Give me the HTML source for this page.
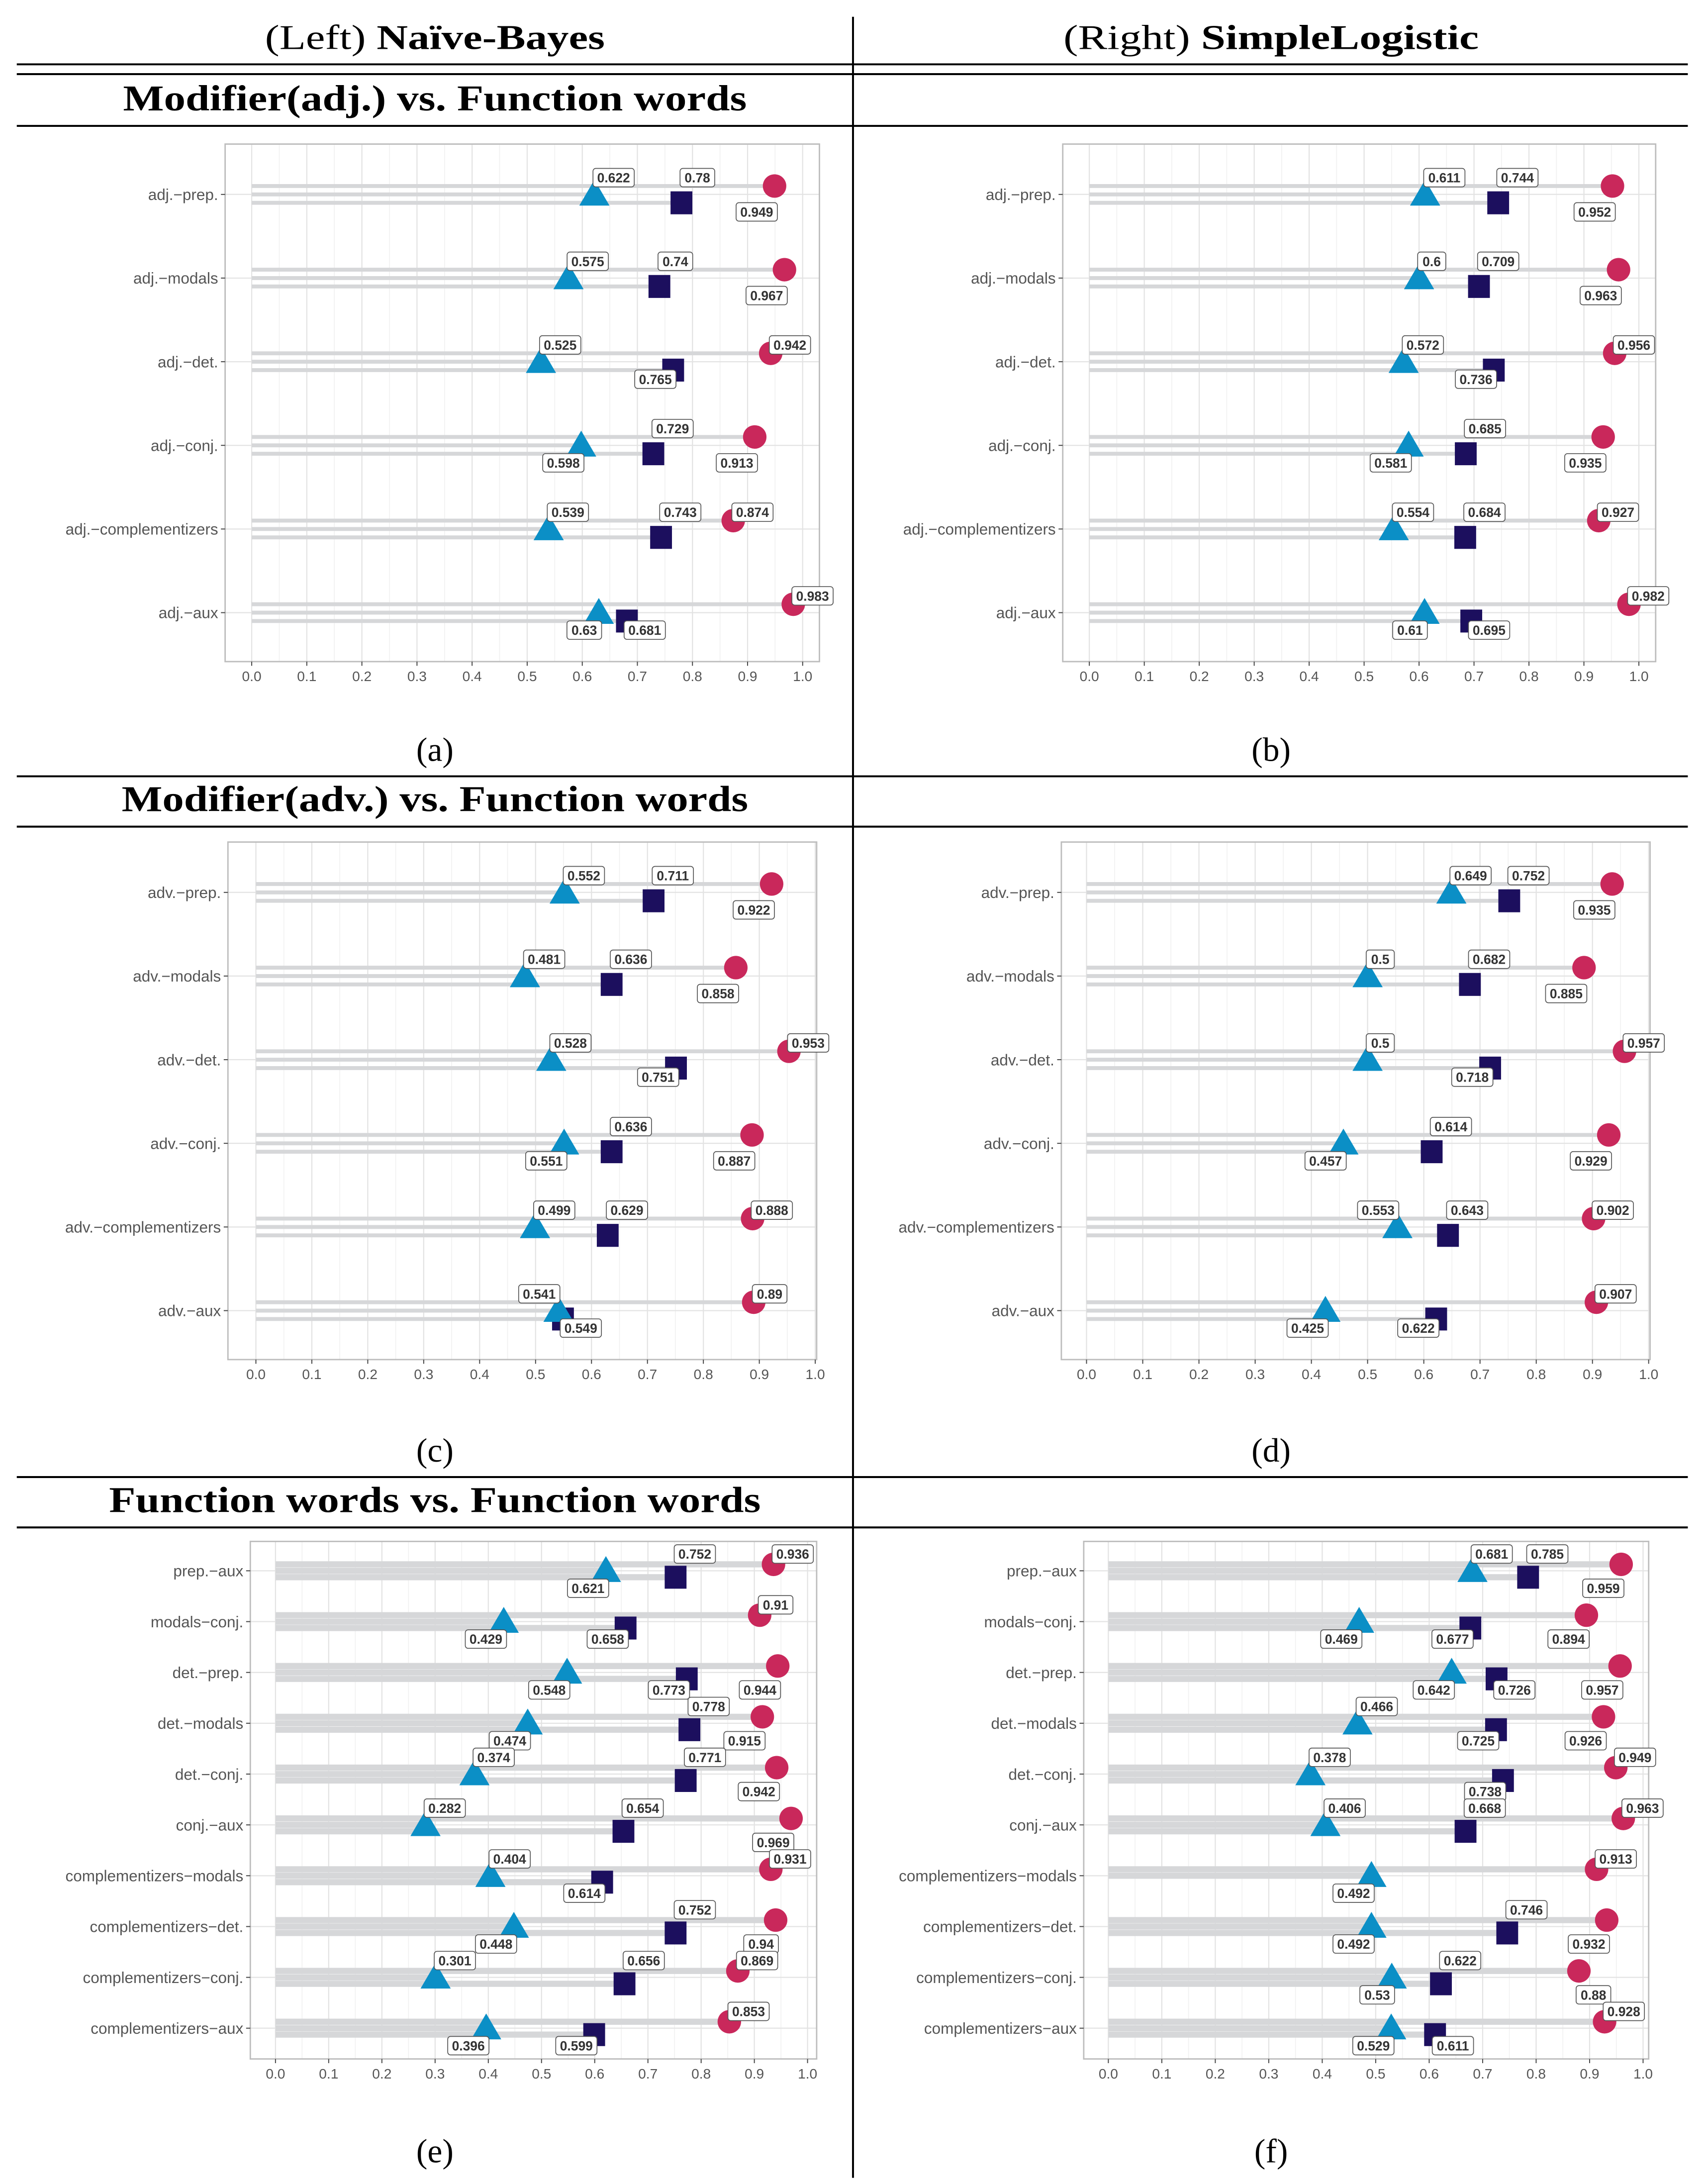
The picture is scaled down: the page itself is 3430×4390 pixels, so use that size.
<!DOCTYPE html>
<html><head><meta charset="utf-8"><style>
html,body{margin:0;padding:0;background:#fff}
svg{display:block}
</style></head><body>
<svg id="root" xmlns="http://www.w3.org/2000/svg" width="3430" height="4390" viewBox="0 0 1220 1561.4" preserveAspectRatio="none">
<rect x="0" y="0" width="1220" height="1562" fill="#fff"/>
<g stroke="#000" stroke-width="1.4">
<line x1="610" y1="12" x2="610" y2="1557"/>
<line x1="12" y1="46" x2="1207" y2="46"/>
<line x1="12" y1="53" x2="1207" y2="53"/>
<line x1="12" y1="90" x2="1207" y2="90"/>
<line x1="12" y1="555" x2="1207" y2="555"/>
<line x1="12" y1="591" x2="1207" y2="591"/>
<line x1="12" y1="1056" x2="1207" y2="1056"/>
<line x1="12" y1="1092" x2="1207" y2="1092"/>
</g>
<g font-family="'Liberation Serif', serif" fill="#000">
<text x="311" y="35" font-size="25" text-anchor="middle" textLength="243" lengthAdjust="spacingAndGlyphs">(Left) <tspan font-weight="bold">Naïve-Bayes</tspan></text>
<text x="909" y="35" font-size="25" text-anchor="middle" textLength="297" lengthAdjust="spacingAndGlyphs">(Right) <tspan font-weight="bold">SimpleLogistic</tspan></text>
<text x="311" y="79" font-size="26" font-weight="bold" text-anchor="middle" textLength="446" lengthAdjust="spacingAndGlyphs">Modifier(adj.) vs. Function words</text>
<text x="311" y="580" font-size="26" font-weight="bold" text-anchor="middle" textLength="448" lengthAdjust="spacingAndGlyphs">Modifier(adv.) vs. Function words</text>
<text x="311" y="1081" font-size="26" font-weight="bold" text-anchor="middle" textLength="466" lengthAdjust="spacingAndGlyphs">Function words vs. Function words</text>
<text x="311" y="544" font-size="24" text-anchor="middle">(a)</text>
<text x="909" y="544" font-size="24" text-anchor="middle">(b)</text>
<text x="311" y="1045" font-size="24" text-anchor="middle">(c)</text>
<text x="909" y="1045" font-size="24" text-anchor="middle">(d)</text>
<text x="311" y="1546" font-size="24" text-anchor="middle">(e)</text>
<text x="909" y="1546" font-size="24" text-anchor="middle">(f)</text>
</g>
<g id="panels"></g>
</svg>
<script>
const NS = "http://www.w3.org/2000/svg";
const xTicks = ["0.0","0.1","0.2","0.3","0.4","0.5","0.6","0.7","0.8","0.9","1.0"];

const catsA = ["adj.\u2212prep.","adj.\u2212modals","adj.\u2212det.","adj.\u2212conj.","adj.\u2212complementizers","adj.\u2212aux"];
const triA = [0.622,0.575,0.525,0.598,0.539,0.63];
const sqA = [0.78,0.74,0.765,0.729,0.743,0.681];
const cirA = [0.949,0.967,0.942,0.913,0.874,0.983];
const triPosA = ["a","a","a","b","a","b"];
const sqPosA = ["a","a","b","a","a","B"];
const cirPosA = ["b","b","a","b","a","a"];

const triB = [0.611,0.6,0.572,0.581,0.554,0.61];
const sqB = [0.744,0.709,0.736,0.685,0.684,0.695];
const cirB = [0.952,0.963,0.956,0.935,0.927,0.982];

const catsC = ["adv.\u2212prep.","adv.\u2212modals","adv.\u2212det.","adv.\u2212conj.","adv.\u2212complementizers","adv.\u2212aux"];
const triC = [0.552,0.481,0.528,0.551,0.499,0.541];
const sqC = [0.711,0.636,0.751,0.636,0.629,0.549];
const cirC = [0.922,0.858,0.953,0.887,0.888,0.89];
const triPosC = ["a","a","a","b","a","A"];
const sqPosC = ["a","a","b","a","a","B"];
const cirPosC = ["b","b","a","b","a","a"];

const triD = [0.649,0.5,0.5,0.457,0.553,0.425];
const sqD = [0.752,0.682,0.718,0.614,0.643,0.622];
const cirD = [0.935,0.885,0.957,0.929,0.902,0.907];
const triPosD = ["a","a","a","b","A","b"];
const sqPosD = ["a","a","b","a","a","b"];
const cirPosD = ["b","b","a","b","a","a"];

const catsE = ["prep.\u2212aux","modals\u2212conj.","det.\u2212prep.","det.\u2212modals","det.\u2212conj.","conj.\u2212aux","complementizers\u2212modals","complementizers\u2212det.","complementizers\u2212conj.","complementizers\u2212aux"];
const triE = [0.621,0.429,0.548,0.474,0.374,0.282,0.404,0.448,0.301,0.396];
const sqE = [0.752,0.658,0.773,0.778,0.771,0.654,0.614,0.752,0.656,0.599];
const cirE = [0.936,0.91,0.944,0.915,0.942,0.969,0.931,0.94,0.869,0.853];
const triPosE = ["b","b","b","b","a","a","a","b","a","b"];
const sqPosE = ["a","b","b","a","a","a","b","a","a","b"];
const cirPosE = ["a","a","b","b","b","b","a","b","a","a"];

const triF = [0.681,0.469,0.642,0.466,0.378,0.406,0.492,0.492,0.53,0.529];
const sqF = [0.785,0.677,0.726,0.725,0.738,0.668,null,0.746,0.622,0.611];
const cirF = [0.959,0.894,0.957,0.926,0.949,0.963,0.913,0.932,0.88,0.928];
const triPosF = ["a","b","b","a","a","a","b","b","b","b"];
const sqPosF = ["a","b","B","b","b","a","a","a","a","B"];
const cirPosF = ["b","b","b","b","a","a","a","b","B","a"];

function el(tag, attrs, parent){
  const e = document.createElementNS(NS, tag);
  for (const k in attrs) e.setAttribute(k, attrs[k]);
  parent.appendChild(e);
  return e;
}

function drawPanel(id, g, cats, tri, sq, cir, tp, sp, cp){
  const root = document.getElementById("panels");
  const p = el("g", {}, root);
  
  
  const xs = v => g.x0 + (g.x1 - g.x0) * v;
  const n = cats.length;
  const ys = i => g.rowTop + (g.rowBot - g.rowTop) * i / (n - 1);
  for (let k = 0; k <= 20; k++){
    const v = k * 0.05;
    if (xs(v) > g.right) continue;
    const ln = el("line", {x1: xs(v), x2: xs(v), y1: g.top, y2: g.bot, stroke: k%2 ? "#f1f1f1" : "#e3e3e3", "stroke-width": k%2 ? 0.6 : 0.8}, p);
    
    
  }
  for (let i = 0; i < n; i++){
    const ln = el("line", {x1: g.left, x2: g.right, y1: ys(i), y2: ys(i), stroke: "#e3e3e3", "stroke-width": 0.8}, p);
    
    
  }
  const box = el("rect", {x: g.left, y: g.top, width: g.right - g.left, height: g.bot - g.top, fill: "none", stroke: "#bdbdbd", "stroke-width": 1}, p);
  
  
  xTicks.forEach((t, k) => {
    const v = k / 10;
    const tk = el("line", {x1: xs(v), x2: xs(v), y1: g.bot, y2: g.bot + 3, stroke: "#444", "stroke-width": 0.7}, p);
    
    
    const tx = el("text", {x: xs(v), y: g.bot + 14, "font-size": 10, fill: "#555", "text-anchor": "middle", "font-family": "'Liberation Sans Narrow','Liberation Sans',sans-serif"}, p);
    tx.textContent = t;
    
    
  });
  for (let i = 0; i < n; i++){
    const y = ys(i);
    const tk = el("line", {x1: g.left - 3, x2: g.left, y1: y, y2: y, stroke: "#444", "stroke-width": 0.7}, p);
    
    
    const lab = el("text", {x: g.left - 5, y: y + 4, "font-size": 11.2, fill: "#555", "text-anchor": "end", "font-family": "'Liberation Sans Narrow','Liberation Sans',sans-serif"}, p);
    lab.textContent = cats[i];
    
    
    const rowVals = [[cir[i], -g.off], [tri[i], 0], [sq[i], g.off]];
    rowVals.forEach(rv => {
      if (rv[0] == null) return;
      const b = el("line", {x1: xs(0), x2: xs(rv[0]), y1: y + rv[1], y2: y + rv[1], stroke: "#d6d7d9", "stroke-width": g.bw}, p);
      
      
    });
  }
  const labels = [];
  for (let i = 0; i < n; i++){
    const y = ys(i);
    if (cir[i] != null){
      const c = el("circle", {cx: xs(cir[i]), cy: y - g.off, r: 8.4, fill: "#c9285b"}, p);
      
      
      labels.push([cir[i], xs(cir[i]), y, cp[i]]);
    }
    if (sq[i] != null){
      const s = el("rect", {x: xs(sq[i]) - 7.8, y: y + g.off - 8.2, width: 15.6, height: 16.4, fill: "#1c0f5e"}, p);
      
      
      labels.push([sq[i], xs(sq[i]), y, sp[i]]);
    }
    if (tri[i] != null){
      const tx = xs(tri[i]), ty = y - 1;
      const t = el("polygon", {points: `${tx-10.8},${ty+9} ${tx+10.8},${ty+9} ${tx},${ty-9.5}`, fill: "#0b8fc6"}, p);
      
      
      labels.push([tri[i], xs(tri[i]), y, tp[i]]);
    }
  }
  labels.forEach(L => {
    const val = L[0], mx = L[1], y = L[2], pos = L[3];
    const txt = String(val);
    const w = txt.length * 4.7 + 6;
    const h = 13.2;
    let left, cy;
    if (pos === "a"){ left = mx - 1; cy = y - 12; }
    else if (pos === "A"){ left = mx + 1 - w; cy = y - 12; }
    else if (pos === "b"){ left = mx + 2 - w; cy = y + 12.5; }
    else { left = mx - 2; cy = y + 12.5; }
    const lg = el("g", {}, p);
    
    
    el("rect", {x: left, y: cy - h/2, width: w, height: h, rx: 2, fill: "#fff", stroke: "#555", "stroke-width": 0.6}, lg);
    const t = el("text", {x: left + w/2, y: cy + 3.4, "font-size": 9.4, "font-weight": "bold", fill: "#333", "text-anchor": "middle", "font-family": "'Liberation Sans Narrow','Liberation Sans',sans-serif"}, lg);
    t.textContent = txt;
  });
}

const gA = {left:161,right:586,top:103,bot:473,x0:180,x1:574,rowTop:139,rowBot:438,off:6,bw:2.8};
const gB = {left:760,right:1184,top:103,bot:473,x0:779,x1:1172,rowTop:139,rowBot:438,off:6,bw:2.8};
const gC = {left:163,right:584,top:602,bot:972,x0:183,x1:583,rowTop:638,rowBot:937,off:6,bw:2.8};
const gD = {left:759,right:1180,top:602,bot:972,x0:777,x1:1179,rowTop:638,rowBot:937,off:6,bw:2.8};
const gE = {left:179,right:584,top:1102,bot:1472,x0:197,x1:577.5,rowTop:1123,rowBot:1450,off:4.6,bw:4.4};
const gF = {left:775,right:1179,top:1102,bot:1472,x0:792.6,x1:1175,rowTop:1123,rowBot:1450,off:4.6,bw:4.4};

drawPanel("a", gA, catsA, triA, sqA, cirA, triPosA, sqPosA, cirPosA);
drawPanel("b", gB, catsA, triB, sqB, cirB, triPosA, sqPosA, cirPosA);
drawPanel("c", gC, catsC, triC, sqC, cirC, triPosC, sqPosC, cirPosC);
drawPanel("d", gD, catsC, triD, sqD, cirD, triPosD, sqPosD, cirPosD);
drawPanel("e", gE, catsE, triE, sqE, cirE, triPosE, sqPosE, cirPosE);
drawPanel("f", gF, catsE, triF, sqF, cirF, triPosF, sqPosF, cirPosF);
</script>
</body></html>
